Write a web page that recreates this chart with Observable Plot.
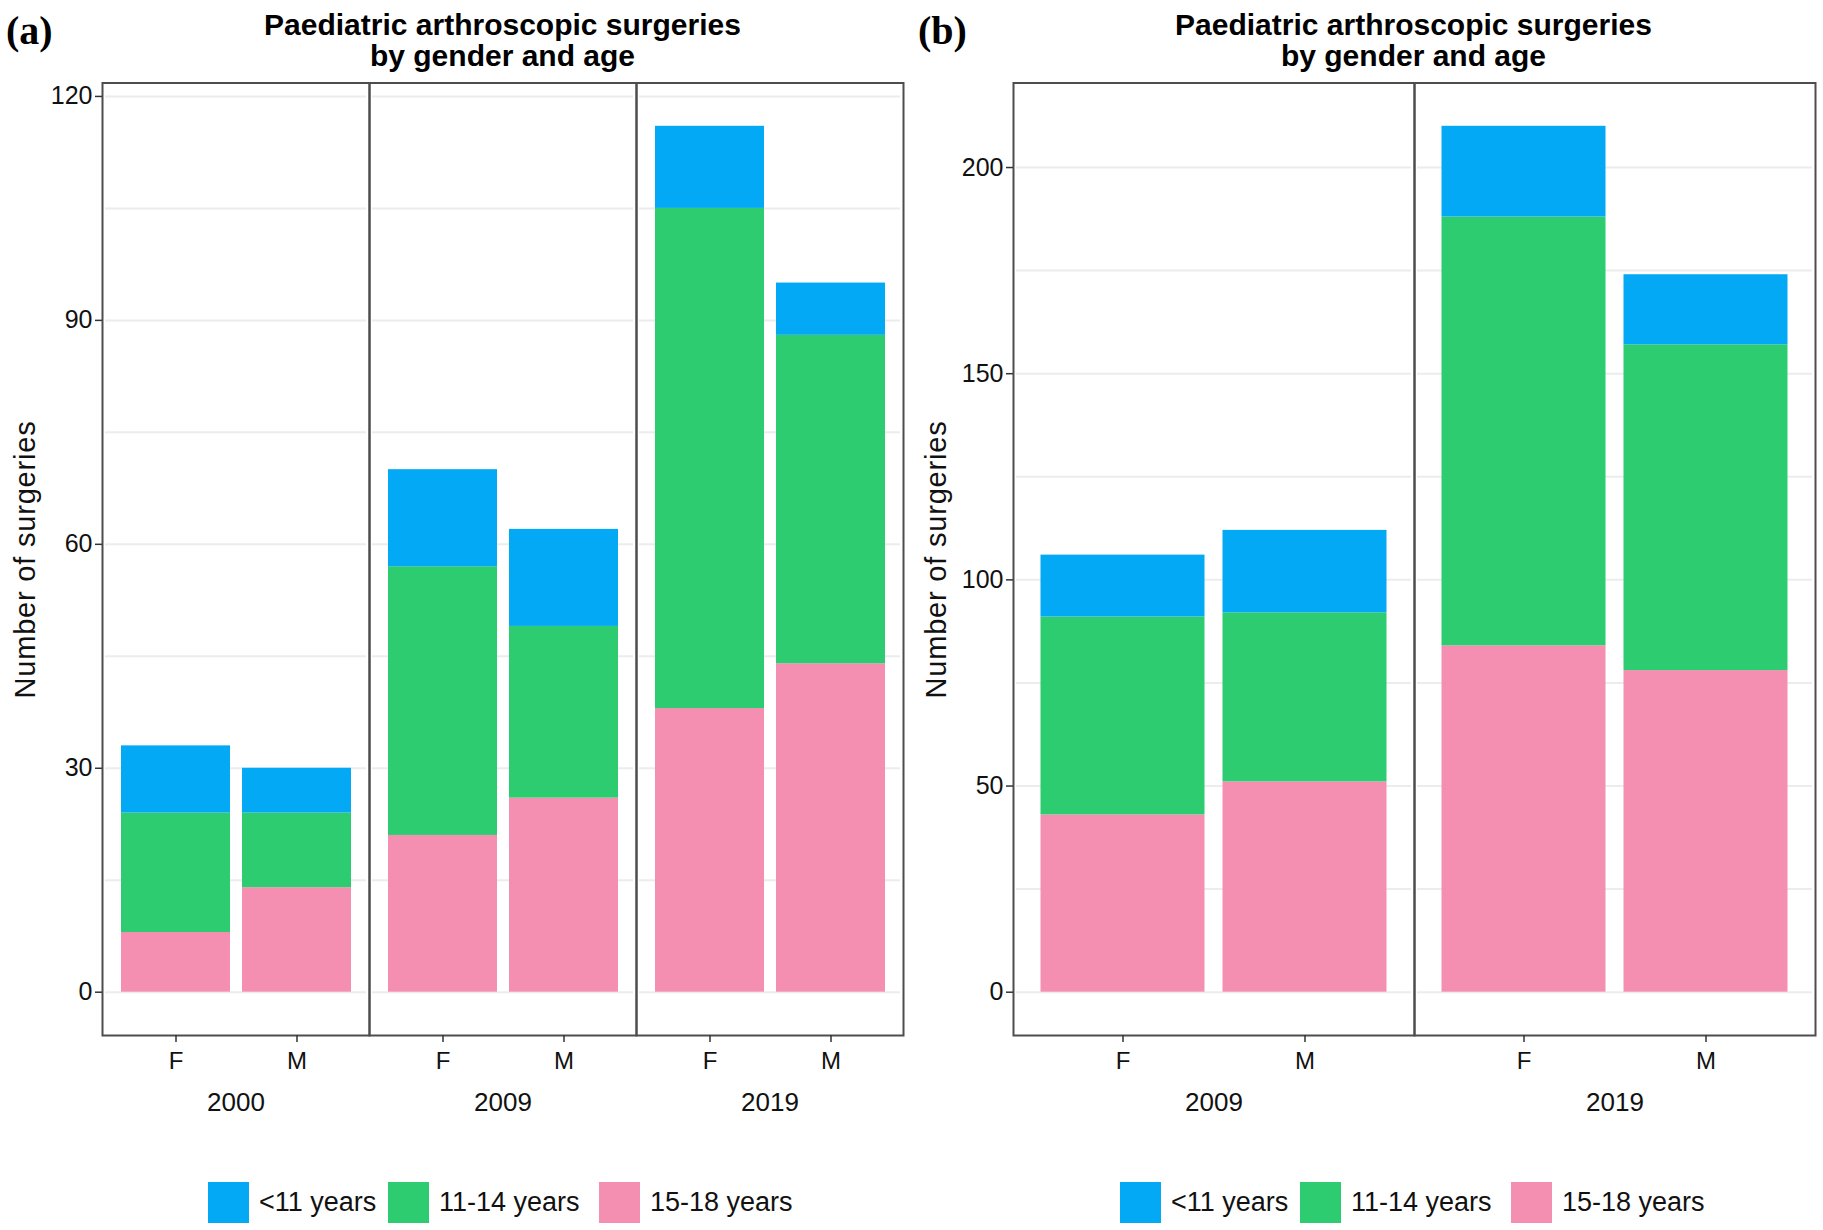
<!DOCTYPE html>
<html><head><meta charset="utf-8">
<script src="https://cdn.jsdelivr.net/npm/d3@7"></script>
<script src="https://cdn.jsdelivr.net/npm/@observablehq/plot@0.6"></script>
<style>
body{margin:0;background:#fff;}
#root{position:relative;width:1823px;height:1230px;overflow:hidden;font-family:'Liberation Sans',Arial,sans-serif;color:#000;background:#fff;}
.abs{position:absolute;}
.title{font-weight:bold;font-size:30px;line-height:31px;text-align:center;white-space:nowrap;width:800px;}
.tag{font-family:'Liberation Serif','Times New Roman',serif;font-weight:bold;font-size:40px;line-height:40px;white-space:nowrap;}
.ylab{font-size:29px;line-height:27px;height:27px;width:400px;text-align:center;transform:rotate(-90deg);white-space:nowrap;color:#111;letter-spacing:0.8px;}
.sw{width:41px;height:41px;}
.lt{font-size:27px;line-height:41px;height:41px;white-space:nowrap;color:#111;}
</style></head>
<body>
<div id="root"></div>
<script>
// ---- data ----
const yearsA = ["2000", "2009", "2019"];
const yearsB = ["2009", "2019"];
const genders = ["F", "M"];
const ageGroups = ["<11 years", "11-14 years", "15-18 years"];
const ageColors = ["#03A9F4", "#2ECC71", "#F48FB1"];

// panel (a): 2000F, 2000M, 2009F, 2009M, 2019F, 2019M
const aUnder11 = [9, 6, 13, 13, 11, 7];
const a11to14 = [16, 10, 36, 23, 67, 44];
const a15to18 = [8, 14, 21, 26, 38, 44];

// panel (b): 2009F, 2009M, 2019F, 2019M
const bUnder11 = [15, 20, 22, 17];
const b11to14 = [48, 41, 104, 79];
const b15to18 = [43, 51, 84, 78];

const yTicksA = [0, 30, 60, 90, 120];
const yGridA = [0, 15, 30, 45, 60, 75, 90, 105, 120];
const yTicksB = [0, 50, 100, 150, 200];
const yGridB = [0, 25, 50, 75, 100, 125, 150, 175, 200];

const titleLines = ["Paediatric arthroscopic surgeries", "by gender and age"];
const yLabel = "Number of surgeries";

function tidy(years, u11, mid, old) {
  const rows = [];
  let i = 0;
  for (const year of years) for (const gender of genders) {
    rows.push({year, gender, age: ageGroups[2], n: old[i]});
    rows.push({year, gender, age: ageGroups[1], n: mid[i]});
    rows.push({year, gender, age: ageGroups[0], n: u11[i]});
    i++;
  }
  return rows;
}

function panel({data, years, width, marginLeft, marginRight, yTicks, yGrid}) {
  const maxTotal = d3.max(d3.rollup(data, v => d3.sum(v, d => d.n), d => d.year + d.gender).values());
  const pad = maxTotal * 0.05;
  return Plot.plot({
    width, height: 1130,
    marginTop: 82.5, marginBottom: 95, marginLeft, marginRight,
    style: {fontSize: "25px", fontFamily: "'Liberation Sans', Arial, sans-serif", color: "#111", background: "transparent", overflow: "visible"},
    fx: {domain: years, padding: 0},
    x: {domain: genders, paddingInner: 0.1, paddingOuter: 0.15, align: 0.5},
    y: {domain: [-pad, maxTotal + pad]},
    color: {domain: ageGroups, range: ageColors},
    marks: [
      Plot.ruleY(yGrid, {stroke: "#ececec", strokeWidth: 2, insetLeft: 3, insetRight: 3}),
      Plot.barY(data, {fx: "year", x: "gender", y: "n", fill: "age"}),
      Plot.frame({stroke: "#4d4d4d", strokeWidth: 2}),
      Plot.axisY({ticks: yTicks, tickSize: 7, tickPadding: 3, label: null, stroke: "#333", strokeWidth: 1.5, fill: "#111"}),
      Plot.axisX({tickSize: 7, tickPadding: 9, label: null, stroke: "#333", strokeWidth: 1.5, fill: "#111", fontSize: 24}),
      Plot.axisFx({anchor: "bottom", tickSize: 0, tickPadding: 57, label: null, fill: "#111", fontSize: 26})
    ]
  });
}

const root = document.getElementById("root");
function place(el, left, top) {
  el.classList.add("abs");
  el.style.left = left + "px";
  el.style.top = top + "px";
  root.appendChild(el);
  return el;
}
function div(cls, text) {
  const d = document.createElement("div");
  d.className = cls;
  if (text != null) d.textContent = text;
  return d;
}

function addPanel(cfg, offsetX, boxLeft, boxRight, tag) {
  const holder = document.createElement("div");
  holder.appendChild(panel(cfg));
  place(holder, offsetX, 0);
  place(div("tag", tag), offsetX + 6, 10.5);
  const t = div("title");
  t.innerHTML = titleLines.join("<br>");
  place(t, (boxLeft + boxRight) / 2 - 400, 9);
  place(div("ylab", yLabel), boxLeft - 77 - 200, 545.5);
  const swX = [208, 388, 599].map(x => x + offsetX);
  ageGroups.forEach((g, i) => {
    const s = div("sw");
    s.style.background = ageColors[i];
    place(s, swX[i], 1182);
    place(div("lt", g), swX[i] + 51, 1182);
  });
}

addPanel({data: tidy(yearsA, aUnder11, a11to14, a15to18), years: yearsA, width: 912, marginLeft: 102, marginRight: 9, yTicks: yTicksA, yGrid: yGridA}, 0, 102, 903, "(a)");
addPanel({data: tidy(yearsB, bUnder11, b11to14, b15to18), years: yearsB, width: 911, marginLeft: 100.5, marginRight: 8.5, yTicks: yTicksB, yGrid: yGridB}, 912, 1012.5, 1814.5, "(b)");
</script>
</body></html>
